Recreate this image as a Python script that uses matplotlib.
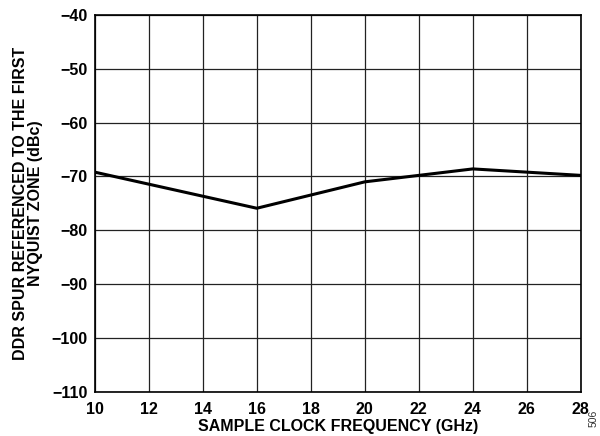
import matplotlib
matplotlib.use("Agg")
import matplotlib.pyplot as plt

freq_ghz = [10, 16, 20, 24, 28]
spur_dbc = [-69.2, -75.9, -71.0, -68.6, -69.8]
x_ticks = [10, 12, 14, 16, 18, 20, 22, 24, 26, 28]
y_ticks = [-110, -100, -90, -80, -70, -60, -50, -40]

plt.rcParams['font.family'] = ['Liberation Sans', 'DejaVu Sans']

fig = plt.figure(figsize=(6.0, 4.36), dpi=100)
ax = fig.add_axes([0.158, 0.101, 0.810, 0.865])

ax.plot(freq_ghz, spur_dbc, color='black', linewidth=2.2, zorder=3)

ax.set_xlim(10, 28)
ax.set_ylim(-110, -40)
ax.set_xticks(x_ticks)
ax.set_yticks(y_ticks)
ax.set_xticklabels([str(v) for v in x_ticks])
ax.set_yticklabels([str(v).replace('-', '\u2212') for v in y_ticks])
ax.grid(True, color='#222222', linewidth=0.9)
ax.set_axisbelow(True)
for s in ax.spines.values():
    s.set_linewidth(1.2)
    s.set_color('black')
ax.tick_params(length=0, labelsize=11.5)
ax.tick_params(axis='x', pad=7)
ax.tick_params(axis='y', pad=5)
for lab in ax.get_xticklabels() + ax.get_yticklabels():
    lab.set_fontweight('bold')

ax.set_xlabel('SAMPLE CLOCK FREQUENCY (GHz)', fontsize=11.5, fontweight='bold', labelpad=2)
ax.set_ylabel('DDR SPUR REFERENCED TO THE FIRST\nNYQUIST ZONE (dBc)', fontsize=11.5,
              fontweight='bold', labelpad=6, linespacing=1.0)

fig.text(0.99, 0.04, '506', rotation=90, fontsize=7.5, color='#333333',
         ha='center', va='center')

fig.savefig('out.png', dpi=100)
